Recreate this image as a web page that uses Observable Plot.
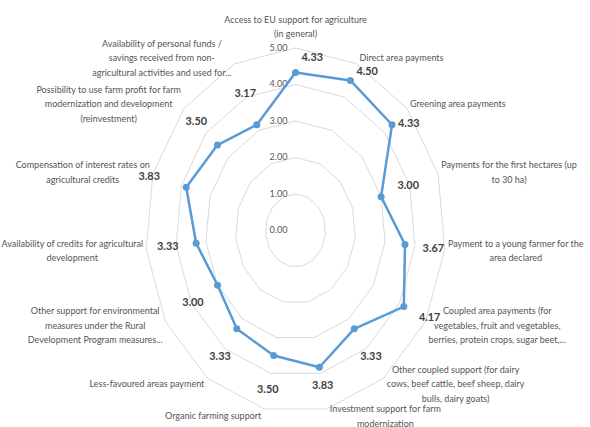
<!DOCTYPE html>
<html><head><meta charset="utf-8">
<script src="https://cdn.jsdelivr.net/npm/d3@7"></script>
<script src="https://cdn.jsdelivr.net/npm/@observablehq/plot@0.6"></script>
<style>body{margin:0;background:#fff;overflow:hidden;}</style>
</head><body><div id="chart"></div>
<script>
const categories = [
  "Access to EU support for agriculture\n(in general)",
  "Direct area payments",
  "Greening area payments",
  "Payments for the first hectares (up\nto 30 ha)",
  "Payment to a young farmer for the\narea declared",
  "Coupled area payments (for\nvegetables, fruit and vegetables,\nberries, protein crops, sugar beet,...",
  "Other coupled support (for dairy\ncows, beef cattle, beef sheep, dairy\nbulls, dairy goats)",
  "Investment support for farm\nmodernization",
  "Organic farming support",
  "Less-favoured areas payment",
  "Other support for environmental\nmeasures under the Rural\nDevelopment Program measures...",
  "Availability of credits for agricultural\ndevelopment",
  "Compensation of interest rates on\nagricultural credits",
  "Possibility to use farm profit for farm\nmodernization and development\n(reinvestment)",
  "Availability of personal funds /\nsavings received from non-\nagricultural activities and used for..."
];
const values = [4.33, 4.50, 4.33, 3.00, 3.67, 4.17, 3.33, 3.83, 3.50, 3.33, 3.00, 3.33, 3.83, 3.50, 3.17];
const valueLabels = ["4.33","4.50","4.33","3.00","3.67","4.17","3.33","3.83","3.50","3.33","3.00","3.33","3.83","3.50","3.17"];
const ticks = [0, 1, 2, 3, 4, 5];
const tickLabels = ["0.00","1.00","2.00","3.00","4.00","5.00"];

const W = 590, H = 427, CX = 295, CY = 230, UX = 30, UY = 36.5, RMAX = 5;
const n = categories.length;
const ang = i => 2 * Math.PI * i / n;
const FONT = 'Lato, "Liberation Sans", sans-serif';

const ctx = document.createElement("canvas").getContext("2d");
function fitSize(sample, target, weight) {
  ctx.font = `${weight} 20px ${FONT}`;
  return 20 * target / ctx.measureText(sample).width;
}
const catSize = fitSize("Access to EU support for agriculture", 143, "normal");
const valSize = fitSize("4.33", 21.5, "bold");
const tickSize = fitSize("5.00", 18, "normal");
ctx.font = `normal ${catSize}px ${FONT}`;
const textW = s => d3.max(s.split("\n"), l => ctx.measureText(l).width);

const rings = ticks.filter(t => t > 0).flatMap(t =>
  d3.range(n + 1).map(i => ({t, x: t * Math.sin(ang(i % n)), y: t * Math.cos(ang(i % n))})));
const pts = values.map((v, i) => ({v, x: v * Math.sin(ang(i)), y: v * Math.cos(ang(i))}));
const loop = [...pts, pts[0]];

const cats = categories.map((c, i) => {
  const s = Math.sin(ang(i)), co = Math.cos(ang(i));
  const vx = RMAX * s, vy = RMAX * co;
  if (Math.abs(s) < 0.05) return {text: c, x: vx, y: vy + 11 / UY, top: true};
  const w = textW(c);
  return {text: c, x: vx + Math.sign(s) * (w / 2 + 3) / UX, y: vy + (7 * co + 1) / UY, top: false};
});

const vls = values.map((v, i) => {
  const s = Math.sin(ang(i)), co = Math.cos(ang(i));
  const px = v * s, py = v * co;
  const r0 = v + 0.95;
  const t = valueLabels[i];
  if (r0 <= 4.75) return {text: t, x: r0 * s, y: r0 * co, anchor: "middle"};
  if (co < -0.7) return {text: t, x: 4.35 * s, y: 4.35 * co, anchor: "middle"};
  if (co > 0 && s >= -1e-9) return {text: t, x: px + 6 / UX, y: py + 15 * co ** 6 / UY, anchor: "start"};
  return {text: t, x: 4.75 * s, y: 4.75 * co, anchor: s >= -1e-9 ? "start" : "end"};
});

const catStyle = {fill: "#555555", fontSize: catSize, lineHeight: 14.5 / catSize, fontFamily: FONT};
const valStyle = {fill: "#404040", fontSize: valSize, fontWeight: "bold", fontFamily: FONT};

const chart = Plot.plot({
  width: W, height: H, margin: 0,
  x: {domain: [-CX / UX, (W - CX) / UX], axis: null},
  y: {domain: [-(H - CY) / UY, CY / UY], axis: null},
  style: {fontFamily: FONT, background: "#fff"},
  marks: [
    Plot.line(rings, {x: "x", y: "y", z: "t", stroke: "#d9d9d9", strokeWidth: 1}),
    Plot.text(ticks, {x: () => 0, y: d => d, text: (d, i) => tickLabels[i], textAnchor: "end", dx: -8, fill: "#595959", fontSize: tickSize, fontFamily: FONT}),
    Plot.line(loop, {x: "x", y: "y", stroke: "#5b9bd5", strokeWidth: 2.5, strokeLinejoin: "round"}),
    Plot.dot(pts, {x: "x", y: "y", r: 3.5, fill: "#5b9bd5"}),
    Plot.text(cats.filter(d => d.top), {x: "x", y: "y", text: "text", lineAnchor: "bottom", textAnchor: "middle", ...catStyle}),
    Plot.text(cats.filter(d => !d.top), {x: "x", y: "y", text: "text", lineAnchor: "middle", textAnchor: "middle", ...catStyle}),
    ...["start", "middle", "end"].map(a =>
      Plot.text(vls.filter(d => d.anchor === a), {x: "x", y: "y", text: "text", textAnchor: a, ...valStyle}))
  ]
});
document.getElementById("chart").appendChild(chart);
</script>
</body></html>
